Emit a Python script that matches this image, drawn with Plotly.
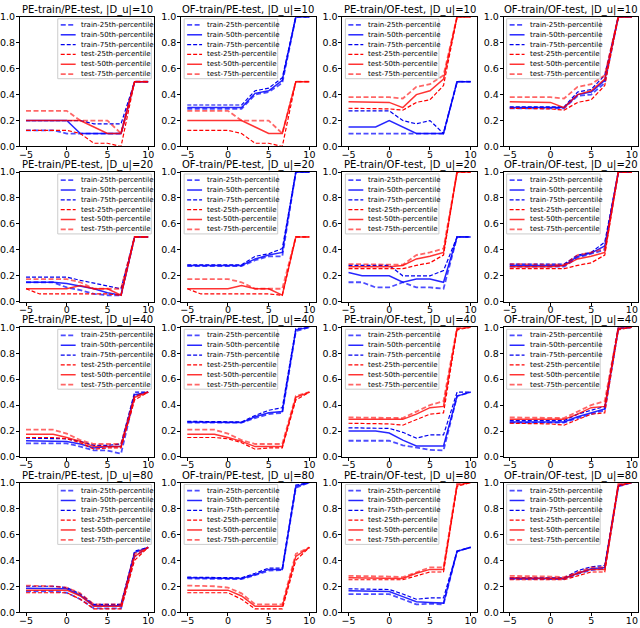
import plotly.graph_objects as go

# x positions of the evaluated points
X = [-5, -3.333, -1.667, 0, 1.667, 3.333, 5, 6.667, 8.333, 10]

# ---- |D_u| = 10 ----
pe_test_10_25 = [0.125, 0.125, 0.125, 0.125, 0.1, 0.025, 0.025, 0.0, 0.5, 0.5]
pe_test_10_50 = [0.2, 0.2, 0.2, 0.2, 0.2, 0.15, 0.1, 0.1, 0.5, 0.5]
pe_test_10_75 = [0.275, 0.275, 0.275, 0.275, 0.2, 0.2, 0.2, 0.1, 0.5, 0.5]
of_test_10_25 = [0.295, 0.295, 0.295, 0.29, 0.28, 0.34, 0.36, 0.47, 1.0, 1.0]
of_test_10_50 = [0.345, 0.345, 0.345, 0.34, 0.30, 0.40, 0.43, 0.52, 1.0, 1.0]
of_test_10_75 = [0.38, 0.38, 0.38, 0.38, 0.37, 0.46, 0.48, 0.55, 1.0, 1.0]

pe_pe_10_train_25 = [0.125, 0.125, 0.125, 0.1, 0.1, 0.1, 0.1, 0.1, 0.5, 0.5]
pe_pe_10_train_50 = [0.2, 0.2, 0.2, 0.2, 0.1, 0.1, 0.1, 0.1, 0.5, 0.5]
pe_pe_10_train_75 = [0.2, 0.2, 0.2, 0.2, 0.2, 0.175, 0.175, 0.175, 0.5, 0.5]
of_pe_10_train_25 = [0.29, 0.29, 0.29, 0.29, 0.29, 0.40, 0.42, 0.49, 1.0, 1.0]
of_pe_10_train_50 = [0.30, 0.30, 0.30, 0.30, 0.30, 0.41, 0.43, 0.51, 1.0, 1.0]
of_pe_10_train_75 = [0.32, 0.32, 0.32, 0.32, 0.32, 0.43, 0.45, 0.53, 1.0, 1.0]
pe_of_10_train_25 = [0.1, 0.1, 0.1, 0.1, 0.1, 0.1, 0.1, 0.1, 0.5, 0.5]
pe_of_10_train_50 = [0.15, 0.15, 0.15, 0.2, 0.15, 0.1, 0.1, 0.1, 0.5, 0.5]
pe_of_10_train_75 = [0.275, 0.275, 0.275, 0.275, 0.2, 0.175, 0.2, 0.1, 0.5, 0.5]
of_of_10_train_25 = [0.295, 0.295, 0.295, 0.295, 0.295, 0.39, 0.40, 0.49, 1.0, 1.0]
of_of_10_train_50 = [0.30, 0.30, 0.30, 0.30, 0.30, 0.40, 0.42, 0.51, 1.0, 1.0]
of_of_10_train_75 = [0.305, 0.305, 0.305, 0.305, 0.305, 0.42, 0.44, 0.55, 1.0, 1.0]

# ---- |D_u| = 20 ----
pe_test_20_25 = [0.1, 0.06, 0.06, 0.06, 0.06, 0.06, 0.06, 0.05, 0.5, 0.5]
pe_test_20_50 = [0.1, 0.1, 0.1, 0.1, 0.125, 0.1, 0.1, 0.05, 0.5, 0.5]
pe_test_20_75 = [0.175, 0.175, 0.175, 0.175, 0.15, 0.1, 0.1, 0.1, 0.5, 0.5]
of_test_20_25 = [0.255, 0.255, 0.255, 0.255, 0.255, 0.28, 0.30, 0.36, 1.0, 1.0]
of_test_20_50 = [0.27, 0.27, 0.27, 0.27, 0.28, 0.33, 0.35, 0.38, 1.0, 1.0]
of_test_20_75 = [0.29, 0.29, 0.29, 0.285, 0.285, 0.36, 0.38, 0.41, 1.0, 1.0]

pe_pe_20_train_25 = [0.15, 0.15, 0.15, 0.11, 0.09, 0.06, 0.05, 0.05, 0.5, 0.5]
pe_pe_20_train_50 = [0.15, 0.15, 0.15, 0.14, 0.12, 0.1, 0.07, 0.05, 0.5, 0.5]
pe_pe_20_train_75 = [0.19, 0.19, 0.19, 0.19, 0.165, 0.145, 0.12, 0.1, 0.5, 0.5]
of_pe_20_train_25 = [0.275, 0.275, 0.275, 0.275, 0.275, 0.32, 0.35, 0.35, 1.0, 1.0]
of_pe_20_train_50 = [0.28, 0.28, 0.28, 0.28, 0.28, 0.33, 0.36, 0.38, 1.0, 1.0]
of_pe_20_train_75 = [0.285, 0.285, 0.285, 0.285, 0.285, 0.35, 0.37, 0.41, 1.0, 1.0]
pe_of_20_train_25 = [0.15, 0.15, 0.11, 0.11, 0.15, 0.11, 0.11, 0.1, 0.5, 0.5]
pe_of_20_train_50 = [0.225, 0.2, 0.2, 0.2, 0.15, 0.175, 0.175, 0.15, 0.5, 0.5]
pe_of_20_train_75 = [0.28, 0.28, 0.28, 0.28, 0.2, 0.2, 0.2, 0.24, 0.5, 0.5]
of_of_20_train_25 = [0.27, 0.27, 0.27, 0.27, 0.27, 0.34, 0.37, 0.40, 1.0, 1.0]
of_of_20_train_50 = [0.28, 0.28, 0.28, 0.28, 0.28, 0.35, 0.375, 0.43, 1.0, 1.0]
of_of_20_train_75 = [0.29, 0.29, 0.29, 0.29, 0.29, 0.36, 0.38, 0.46, 1.0, 1.0]

# ---- |D_u| = 40 ----
pe_test_40_25 = [0.15, 0.15, 0.15, 0.14, 0.11, 0.06, 0.07, 0.07, 0.44, 0.5]
pe_test_40_50 = [0.175, 0.175, 0.175, 0.15, 0.12, 0.08, 0.08, 0.08, 0.46, 0.5]
pe_test_40_75 = [0.21, 0.21, 0.21, 0.18, 0.13, 0.1, 0.1, 0.1, 0.47, 0.5]
of_test_40_25 = [0.26, 0.26, 0.26, 0.255, 0.245, 0.29, 0.33, 0.34, 0.98, 1.0]
of_test_40_50 = [0.29, 0.29, 0.29, 0.29, 0.29, 0.33, 0.38, 0.39, 0.99, 1.0]
of_test_40_75 = [0.305, 0.305, 0.305, 0.305, 0.30, 0.35, 0.40, 0.43, 1.0, 1.0]

pe_pe_40_train_25 = [0.105, 0.105, 0.105, 0.105, 0.08, 0.05, 0.05, 0.025, 0.47, 0.5]
pe_pe_40_train_50 = [0.125, 0.125, 0.125, 0.12, 0.1, 0.07, 0.08, 0.08, 0.48, 0.5]
pe_pe_40_train_75 = [0.145, 0.145, 0.145, 0.14, 0.12, 0.09, 0.09, 0.1, 0.5, 0.5]
of_pe_40_train_25 = [0.265, 0.265, 0.265, 0.265, 0.265, 0.30, 0.33, 0.34, 0.97, 1.0]
of_pe_40_train_50 = [0.27, 0.27, 0.27, 0.27, 0.265, 0.31, 0.34, 0.35, 0.98, 1.0]
of_pe_40_train_75 = [0.275, 0.275, 0.275, 0.275, 0.27, 0.32, 0.36, 0.38, 0.99, 1.0]
pe_of_40_train_25 = [0.125, 0.125, 0.125, 0.125, 0.09, 0.07, 0.055, 0.05, 0.47, 0.5]
pe_of_40_train_50 = [0.2, 0.2, 0.2, 0.185, 0.13, 0.085, 0.085, 0.085, 0.47, 0.5]
pe_of_40_train_75 = [0.225, 0.225, 0.225, 0.22, 0.19, 0.145, 0.17, 0.17, 0.5, 0.5]
of_of_40_train_25 = [0.265, 0.265, 0.265, 0.265, 0.265, 0.30, 0.33, 0.36, 0.99, 1.0]
of_of_40_train_50 = [0.27, 0.27, 0.27, 0.27, 0.27, 0.31, 0.34, 0.37, 0.99, 1.0]
of_of_40_train_75 = [0.28, 0.28, 0.28, 0.28, 0.28, 0.33, 0.36, 0.39, 1.0, 1.0]

# ---- |D_u| = 80 ----
pe_test_80_25 = [0.15, 0.15, 0.15, 0.15, 0.1, 0.025, 0.025, 0.025, 0.40, 0.5]
pe_test_80_50 = [0.17, 0.17, 0.17, 0.17, 0.125, 0.045, 0.045, 0.045, 0.43, 0.5]
pe_test_80_75 = [0.205, 0.205, 0.2, 0.19, 0.145, 0.06, 0.06, 0.06, 0.45, 0.5]
of_test_80_25 = [0.25, 0.25, 0.25, 0.25, 0.25, 0.28, 0.31, 0.31, 0.97, 1.0]
of_test_80_50 = [0.265, 0.265, 0.265, 0.265, 0.26, 0.30, 0.33, 0.33, 0.98, 1.0]
of_test_80_75 = [0.28, 0.28, 0.28, 0.275, 0.27, 0.31, 0.345, 0.345, 0.99, 1.0]

pe_pe_80_train_25 = [0.16, 0.16, 0.16, 0.15, 0.1, 0.03, 0.03, 0.03, 0.43, 0.5]
pe_pe_80_train_50 = [0.185, 0.185, 0.185, 0.18, 0.13, 0.05, 0.05, 0.05, 0.46, 0.5]
pe_pe_80_train_75 = [0.2, 0.2, 0.2, 0.19, 0.14, 0.06, 0.06, 0.06, 0.47, 0.5]
of_pe_80_train_25 = [0.26, 0.26, 0.26, 0.26, 0.255, 0.285, 0.32, 0.325, 0.96, 1.0]
of_pe_80_train_50 = [0.265, 0.265, 0.265, 0.265, 0.26, 0.29, 0.33, 0.33, 0.97, 1.0]
of_pe_80_train_75 = [0.27, 0.27, 0.27, 0.27, 0.265, 0.30, 0.34, 0.34, 0.98, 1.0]
pe_of_80_train_25 = [0.14, 0.14, 0.14, 0.14, 0.1, 0.06, 0.065, 0.06, 0.47, 0.5]
pe_of_80_train_50 = [0.165, 0.165, 0.165, 0.16, 0.12, 0.08, 0.075, 0.07, 0.47, 0.5]
pe_of_80_train_75 = [0.18, 0.18, 0.18, 0.175, 0.14, 0.1, 0.11, 0.11, 0.47, 0.5]
of_of_80_train_25 = [0.255, 0.255, 0.255, 0.255, 0.255, 0.295, 0.325, 0.335, 0.97, 1.0]
of_of_80_train_50 = [0.26, 0.26, 0.26, 0.26, 0.26, 0.30, 0.335, 0.345, 0.975, 1.0]
of_of_80_train_75 = [0.265, 0.265, 0.265, 0.265, 0.265, 0.32, 0.35, 0.36, 0.98, 1.0]

DU_SIZES = [10, 20, 40, 80]
SETTINGS = ["PE-train/PE-test", "OF-train/PE-test", "PE-train/OF-test", "OF-train/OF-test"]
LEGEND_LABELS = ["train-25th-percentile", "train-50th-percentile", "train-75th-percentile",
                 "test-25th-percentile", "test-50th-percentile", "test-75th-percentile"]

g = globals()


def panel_series(du, col):
    tr = ["pe_pe", "of_pe", "pe_of", "of_of"][col]
    te = ["pe", "pe", "of", "of"][col]
    train = [g[f"{tr}_{du}_train_{q}"] for q in (25, 50, 75)]
    test = [g[f"{te}_test_{du}_{q}"] for q in (25, 50, 75)]
    return train + test


# line styles: train 25/50/75, test 25/50/75
STYLES = [
    dict(color="rgba(0,0,255,0.7)", width=1.8, dash="5px,2.5px"),
    dict(color="rgba(0,0,255,0.85)", width=1.5, dash="solid"),
    dict(color="#0000ee", width=1.2, dash="4px,2px"),
    dict(color="#ff0000", width=1.2, dash="4px,2px"),
    dict(color="rgba(255,0,0,0.8)", width=1.5, dash="solid"),
    dict(color="rgba(255,0,0,0.6)", width=1.8, dash="5px,2.5px"),
]

W, H = 640, 628
COL_LEFT = [17, 179, 341, 503]
ROW_TOP = [11, 169, 327, 485]
AX_W, AX_H = 135, 132
FONT = "DejaVu Sans"

fig = go.Figure()
shapes = []
annotations = []

for r, du in enumerate(DU_SIZES):
    for c, setting in enumerate(SETTINGS):
        k = r * 4 + c + 1
        sx = "" if k == 1 else str(k)
        xname, yname = "x" + sx, "y" + sx

        for series, style in zip(panel_series(du, c), STYLES):
            fig.add_trace(go.Scatter(x=X, y=series, mode="lines", line=style,
                                     xaxis=xname, yaxis=yname, showlegend=False,
                                     hoverinfo="skip"))

        left, top = COL_LEFT[c], ROW_TOP[r]
        axis_common = dict(showline=True, mirror=True, linecolor="black", linewidth=1,
                           ticks="outside", ticklen=3, tickwidth=0.8, tickcolor="black",
                           showgrid=False, zeroline=False, fixedrange=True,
                           tickfont=dict(family=FONT, size=9.5, color="black"))
        fig.layout["xaxis" + sx] = dict(domain=[left / W, (left + AX_W) / W], anchor=yname,
                                        range=[-5.75, 10.75], tickvals=[-5, 0, 5, 10],
                                        ticklabelstandoff=-4, **axis_common)
        fig.layout["yaxis" + sx] = dict(domain=[1 - (top + AX_H) / H, 1 - top / H], anchor=xname,
                                        range=[0, 1], tickvals=[0, 0.2, 0.4, 0.6, 0.8, 1.0],
                                        tickformat=".1f", ticklabelstandoff=-1, **axis_common)

        xref, yref = xname + " domain", yname + " domain"
        annotations.append(dict(text=f"{setting}, |D_u|={du}", x=0.5, y=1, xref=xref, yref=yref,
                                xanchor="center", yanchor="bottom", showarrow=False,
                                borderpad=0, font=dict(family=FONT, size=10, color="black")))

        # legend box drawn by hand (upper right in first column, upper left elsewhere)
        bx = AX_W - 3 - 94 if c == 0 else 3
        fx = lambda px: px / AX_W
        fy = lambda py: 1 - py / AX_H
        shapes.append(dict(type="rect", xref=xref, yref=yref, x0=fx(bx), x1=fx(bx + 94),
                           y0=fy(63), y1=fy(2), layer="above",
                           line=dict(color="#cccccc", width=1),
                           fillcolor="rgba(255,255,255,0.8)"))
        for i, (label, style) in enumerate(zip(LEGEND_LABELS, STYLES)):
            ey = 8.3 + 10 * i
            shapes.append(dict(type="line", xref=xref, yref=yref, x0=fx(bx + 3), x1=fx(bx + 18),
                               y0=fy(ey), y1=fy(ey), layer="above", line=style))
            annotations.append(dict(text=label, x=fx(bx + 21), y=fy(ey), xref=xref, yref=yref,
                                    xanchor="left", yanchor="middle", showarrow=False,
                                    font=dict(family=FONT, size=7, color="black")))

fig.update_layout(width=W, height=H, margin=dict(l=0, r=0, t=0, b=0),
                  paper_bgcolor="white", plot_bgcolor="white",
                  shapes=shapes, annotations=annotations,
                  font=dict(family=FONT, color="black"))

# drop the browser's default 8px page margin so the figure sits at the window corner
fig.write_html("out.html", config={"displayModeBar": False},
               post_script="document.body.style.margin = '0';")
